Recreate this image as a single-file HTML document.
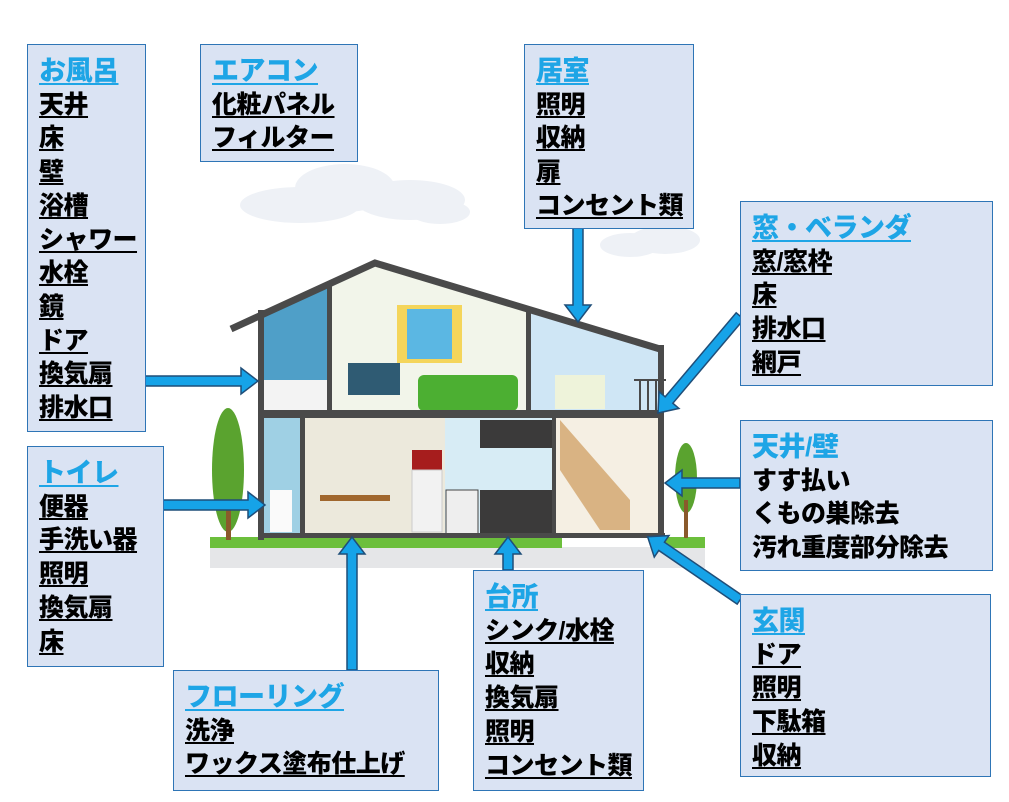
<!DOCTYPE html>
<html><head><meta charset="utf-8"><style>
body{margin:0;width:1009px;height:802px;background:#fff;position:relative;overflow:hidden;font-family:"Liberation Sans","Noto Sans CJK JP",sans-serif;}
.b{position:absolute;background:#dae3f3;border:1.5px solid #2e75b6;box-sizing:border-box;padding:10px 0 0 11px;font-weight:900;font-size:25px;line-height:33.7px;color:#000;letter-spacing:-0.5px}
.b div{white-space:nowrap}
.u span{text-decoration:underline;text-decoration-thickness:2px;text-underline-offset:3px}
.t{color:#1ea5e6;font-size:27px}
svg{position:absolute;left:0;top:0}
</style></head><body>
<svg width="1009" height="802" viewBox="0 0 1009 802">
<g fill="#eef1f6">
<ellipse cx="300" cy="205" rx="60" ry="18"/><ellipse cx="345" cy="188" rx="50" ry="24"/><ellipse cx="410" cy="200" rx="55" ry="20"/><ellipse cx="440" cy="212" rx="30" ry="12"/>
<ellipse cx="630" cy="245" rx="30" ry="12"/><ellipse cx="665" cy="240" rx="35" ry="14"/>
</g>
<rect x="210" y="547" width="495" height="21" fill="#e5e6e8"/>
<rect x="210" y="537" width="352" height="11" fill="#6cbf3c"/>
<rect x="660" y="537" width="45" height="11" fill="#6cbf3c"/>
<ellipse cx="228" cy="470" rx="16" ry="62" fill="#5aa32f"/><rect x="226" y="500" width="5" height="40" fill="#8a5a2b"/>
<ellipse cx="686" cy="478" rx="11" ry="35" fill="#5aa32f"/><rect x="684" y="500" width="4" height="38" fill="#8a5a2b"/>
<polygon points="262,315 375,265 658,345 658,537 262,537" fill="#f2f5ea"/>
<polygon points="262,315 330,284 330,412 262,412" fill="#4f9fc8"/>
<rect x="262" y="380" width="68" height="32" fill="#f3f3f3"/>
<polygon points="529,312 658,345 658,412 529,412" fill="#cfe6f5"/>
<rect x="262" y="418" width="40" height="118" fill="#9fd0e4"/>
<rect x="305" y="418" width="140" height="118" fill="#ece9dc"/>
<rect x="445" y="418" width="110" height="118" fill="#d7ecf5"/>
<rect x="480" y="420" width="75" height="28" fill="#3b3a3a"/><rect x="480" y="490" width="75" height="46" fill="#3b3a3a"/>
<rect x="412" y="450" width="30" height="20" fill="#a61d1d"/><rect x="412" y="470" width="30" height="62" fill="#f2f2f2" stroke="#ccc"/>
<rect x="446" y="490" width="32" height="46" fill="#eee" stroke="#444"/>
<rect x="555" y="418" width="103" height="118" fill="#f5efe3"/>
<polygon points="560,420 630,500 630,530 600,530 560,470" fill="#d9b383"/>
<rect x="348" y="363" width="52" height="32" fill="#2f5b73"/>
<rect x="397" y="305" width="65" height="58" fill="#f4d55b"/><rect x="407" y="309" width="45" height="50" fill="#5bb7e3"/>
<rect x="418" y="375" width="100" height="36" rx="6" fill="#4caf32"/>
<rect x="555" y="375" width="50" height="34" fill="#eef3da"/>
<rect x="270" y="490" width="22" height="42" fill="#fafafa"/>
<rect x="320" y="495" width="70" height="6" fill="#a0672e"/>
<g fill="#4a4a4a">
<rect x="258" y="310" width="6" height="230"/>
<rect x="258" y="410" width="405" height="8"/>
<rect x="258" y="533" width="407" height="5"/>
<rect x="658" y="345" width="6" height="192"/>
<rect x="327" y="286" width="5" height="127"/>
<rect x="526" y="312" width="5" height="100"/>
<rect x="300" y="418" width="5" height="118"/>
<rect x="552" y="418" width="4" height="118"/>
</g>
<polyline points="231,329 375,263 660,349" fill="none" stroke="#4a4a4a" stroke-width="7"/>
<g stroke="#4a4a4a" stroke-width="2"><line x1="634" y1="380" x2="666" y2="380"/><line x1="640" y1="380" x2="640" y2="410"/><line x1="648" y1="380" x2="648" y2="410"/><line x1="656" y1="380" x2="656" y2="410"/></g>
<g fill="#16a3e8" stroke="#1f4e79" stroke-width="1.5" stroke-linejoin="miter">
<polygon transform="translate(145,381)" points="0,-5 96,-5 96,-13 113,0 96,13 96,5 0,5"/>
<polygon transform="translate(163,505)" points="0,-5 85,-5 85,-13 102,0 85,13 85,5 0,5"/>
<polygon transform="translate(352,670) rotate(-90)" points="0,-5 116,-5 116,-13 133,0 116,13 116,5 0,5"/>
<polygon transform="translate(508,570) rotate(-90)" points="0,-5 16,-5 16,-13 33,0 16,13 16,5 0,5"/>
<polygon transform="translate(578,228) rotate(90)" points="0,-5 77,-5 77,-13 94,0 77,13 77,5 0,5"/>
<polygon transform="translate(740,316) rotate(130.2)" points="0,-5 110,-5 110,-13 127,0 110,13 110,5 0,5"/>
<polygon transform="translate(740,483) rotate(180)" points="0,-5 58,-5 58,-13 75,0 58,13 58,5 0,5"/>
<polygon transform="translate(740,600) rotate(214.4)" points="0,-5 95,-5 95,-13 112,0 95,13 95,5 0,5"/>
</g>
</svg>

<div class="b u" style="left:27px;top:44px;width:119px;height:388px"><div class="t"><span>お風呂</span></div><div><span>天井</span></div><div><span>床</span></div><div><span>壁</span></div><div><span>浴槽</span></div><div><span>シャワー</span></div><div><span>水栓</span></div><div><span>鏡</span></div><div><span>ドア</span></div><div><span>換気扇</span></div><div><span>排水口</span></div></div>
<div class="b u" style="left:200px;top:44px;width:158px;height:118px"><div class="t"><span>エアコン</span></div><div><span>化粧パネル</span></div><div><span>フィルター</span></div></div>
<div class="b u" style="left:524px;top:44px;width:170px;height:185px"><div class="t"><span>居室</span></div><div><span>照明</span></div><div><span>収納</span></div><div><span>扉</span></div><div><span>コンセント類</span></div></div>
<div class="b u" style="left:740px;top:201px;width:253px;height:185px"><div class="t"><span>窓・ベランダ</span></div><div><span>窓/窓枠</span></div><div><span>床</span></div><div><span>排水口</span></div><div><span>網戸</span></div></div>
<div class="b" style="left:740px;top:420px;width:253px;height:151px"><div class="t">天井/壁</div><div>すす払い</div><div>くもの巣除去</div><div>汚れ重度部分除去</div></div>
<div class="b u" style="left:27px;top:446px;width:137px;height:221px"><div class="t"><span>トイレ</span></div><div><span>便器</span></div><div><span>手洗い器</span></div><div><span>照明</span></div><div><span>換気扇</span></div><div><span>床</span></div></div>
<div class="b u" style="left:173px;top:670px;width:266px;height:121px"><div class="t"><span>フローリング</span></div><div><span>洗浄</span></div><div><span>ワックス塗布仕上げ</span></div></div>
<div class="b u" style="left:473px;top:570px;width:171px;height:221px"><div class="t"><span>台所</span></div><div><span>シンク/水栓</span></div><div><span>収納</span></div><div><span>換気扇</span></div><div><span>照明</span></div><div><span>コンセント類</span></div></div>
<div class="b u" style="left:740px;top:594px;width:251px;height:183px"><div class="t"><span>玄関</span></div><div><span>ドア</span></div><div><span>照明</span></div><div><span>下駄箱</span></div><div><span>収納</span></div></div>
</body></html>
